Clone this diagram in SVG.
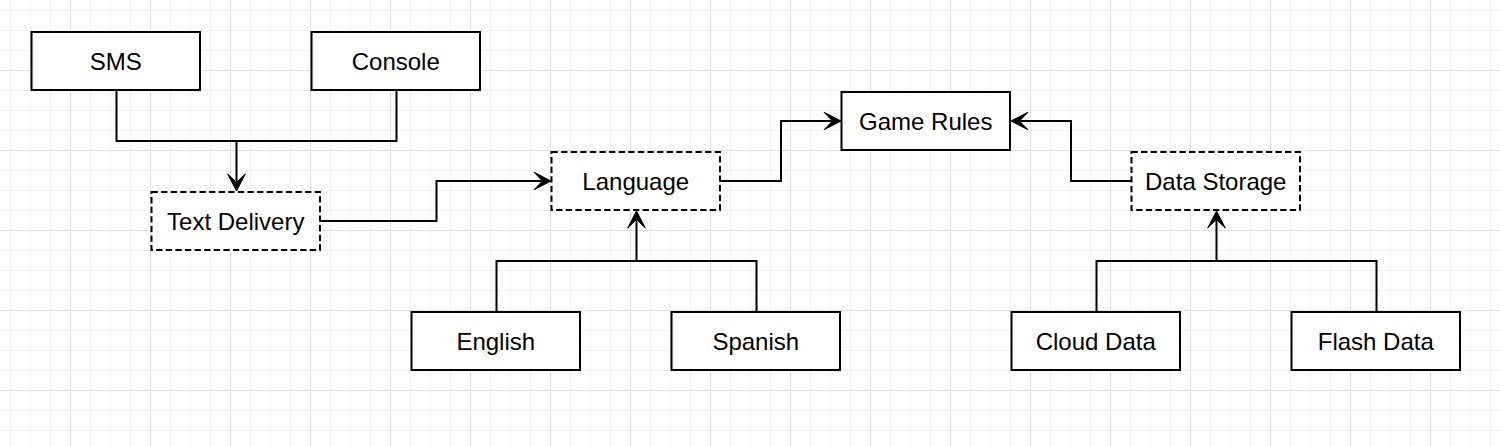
<svg xmlns="http://www.w3.org/2000/svg" width="1500" height="446" viewBox="0 0 1500 446">
  <defs>
    <pattern id="minor" x="10" y="10" width="20" height="20" patternUnits="userSpaceOnUse">
      <path d="M0.5,0 V20 M0,0.5 H20" fill="none" stroke="#f3f3f3" stroke-width="1"/>
    </pattern>
    <pattern id="major" x="70" y="70" width="80" height="80" patternUnits="userSpaceOnUse">
      <path d="M0.5,0 V80 M0,0.5 H80" fill="none" stroke="#e0e0e0" stroke-width="1"/>
    </pattern>
    <marker id="arrow" markerUnits="userSpaceOnUse" viewBox="-10 -10 20 20" markerWidth="20" markerHeight="20" refX="0" refY="0" orient="auto">
      <path d="M8.5,0 L-8.5,-8.8 L0,0 L-8.5,8.8 Z" fill="#000" stroke="#000" stroke-width="1" stroke-linejoin="miter"/>
    </marker>
    <style>
      .box { fill: #fff; stroke: #000; stroke-width: 2; }
      .dashed { stroke-dasharray: 6.3 3.3; }
      .label { font-family: "Liberation Sans", Arial, Helvetica, sans-serif; font-size: 24px; fill: #000; text-anchor: middle; }
      .edge { fill: none; stroke: #000; stroke-width: 2; }
      .arr { marker-end: url(#arrow); }
    </style>
  </defs>
  <rect width="1500" height="446" fill="#fff"/>
  <rect width="1500" height="446" fill="url(#minor)"/>
  <rect width="1500" height="446" fill="url(#major)"/>

  <g id="connectors">
    <path class="edge" d="M116.5,90 V141 H396.5 V90"/>
    <path class="edge arr" d="M236.5,141 V182.5"/>
    <path class="edge arr" d="M320,221 H436.5 V181 H542.5"/>
    <path class="edge" d="M496.5,312 V261 H756.5 V312"/>
    <path class="edge arr" d="M636.5,261 V219.5"/>
    <path class="edge arr" d="M720,181 H781 V121 H832.5"/>
    <path class="edge arr" d="M1131.5,181 H1071 V121 H1019.5"/>
    <path class="edge" d="M1096.5,312 V261 H1376.5 V312"/>
    <path class="edge arr" d="M1216.5,261 V219.5"/>
  </g>

  <g id="node-sms">
    <rect class="box" x="31.5" y="32" width="168.5" height="58"/>
    <text class="label" x="115.75" y="69.6">SMS</text>
  </g>
  <g id="node-console">
    <rect class="box" x="311.5" y="32" width="168.5" height="58"/>
    <text class="label" x="395.75" y="69.6">Console</text>
  </g>
  <g id="node-text-delivery">
    <rect class="box dashed" x="151.5" y="192" width="168.5" height="58"/>
    <text class="label" x="235.75" y="229.6">Text Delivery</text>
  </g>
  <g id="node-language">
    <rect class="box dashed" x="551.5" y="152" width="168.5" height="58"/>
    <text class="label" x="635.75" y="189.6">Language</text>
  </g>
  <g id="node-game-rules">
    <rect class="box" x="841.5" y="92" width="168.5" height="58"/>
    <text class="label" x="925.75" y="129.6">Game Rules</text>
  </g>
  <g id="node-data-storage">
    <rect class="box dashed" x="1131.5" y="152" width="168.5" height="58"/>
    <text class="label" x="1215.75" y="189.6">Data Storage</text>
  </g>
  <g id="node-english">
    <rect class="box" x="411.5" y="312" width="168.5" height="58"/>
    <text class="label" x="495.75" y="349.6">English</text>
  </g>
  <g id="node-spanish">
    <rect class="box" x="671.5" y="312" width="168.5" height="58"/>
    <text class="label" x="755.75" y="349.6">Spanish</text>
  </g>
  <g id="node-cloud-data">
    <rect class="box" x="1011.5" y="312" width="168.5" height="58"/>
    <text class="label" x="1095.75" y="349.6">Cloud Data</text>
  </g>
  <g id="node-flash-data">
    <rect class="box" x="1291.5" y="312" width="168.5" height="58"/>
    <text class="label" x="1375.75" y="349.6">Flash Data</text>
  </g>
</svg>
